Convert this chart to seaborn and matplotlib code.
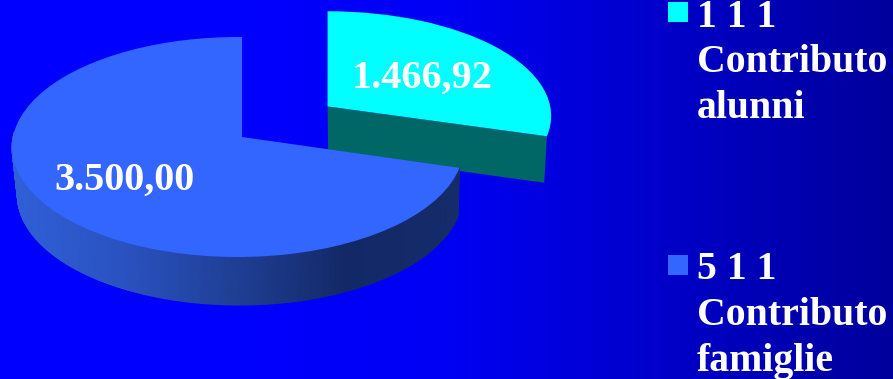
# 3D exploded pie on a blue background

import numpy as np
import matplotlib
matplotlib.use("Agg")
import matplotlib.pyplot as plt
from matplotlib.patches import Rectangle
from matplotlib.transforms import Transform
import seaborn as sns

# Data
values = [1466.92, 3500.00]
value_labels = ["1.466,92", "3.500,00"]
legend_lines = [["1 1 1", "Contributo", "alunni"],
                ["5 1 1", "Contributo", "famiglie"]]


class Project(Transform):
    # ground plane of the pie -> picture pixels, with some perspective
    input_dims = 2
    output_dims = 2
    is_separable = False

    def __init__(self, a, c, shear=0.0, v_ref=0.0):
        super().__init__()
        self.a = a
        self.c = c
        self.shear = shear
        self.v_ref = v_ref

    def transform_non_affine(self, values):
        values = np.asarray(values, dtype=float)
        u, v = values[:, 0], values[:, 1]
        w = 1 + 0.0909 * v + self.c * u
        x = 242 + self.a * u / w + self.shear * (v - self.v_ref)
        return np.column_stack([x, 137 - 109.09 * v / w])


def side_bottom(pts, depth):
    # lower rim of the pie, slightly narrower than the top one
    return np.column_stack([370 + 0.985 * (pts[:, 0] - 370), pts[:, 1] + depth])


sns.set_theme(style="white")
plt.rcParams['font.family'] = ['Liberation Serif', 'DejaVu Serif']

colors = sns.color_palette(["#00ffff", "#3366ff"])
bg_cmap = sns.blend_palette(["#0000ff", "#0000ff", "#0000f4", "#0000c8", "#00009c"], as_cmap=True)
side_cmap = sns.blend_palette(["#3060d8", "#2a52c0", "#1f3f95", "#132866", "#162c6a"], as_cmap=True)

fig = plt.figure(figsize=(8.93, 3.79), dpi=100)
ax = fig.add_axes([0, 0, 1, 1])

wedges, _ = ax.pie(values, explode=[0.48, 0], startangle=90, counterclock=False,
                   colors=colors, wedgeprops={'linewidth': 0})
cyan, blue = wedges
project_cyan = Project(228.5, 0.0, shear=7.0, v_ref=cyan.center[1])
project_blue = Project(224.8, 0.0183)
cyan.set_transform(project_cyan + ax.transData)
blue.set_transform(project_blue + ax.transData)
cyan.set_zorder(3)
blue.set_zorder(5)

# Background
ax.imshow(np.linspace(0, 1, 256)[None, :], extent=(0, 893, 379, 0), aspect='auto',
          cmap=bg_cmap, zorder=0)

# Flat cut side of the cyan slice
th = np.radians(cyan.theta1)
cut = project_cyan.transform_non_affine(np.array([
    cyan.center,
    [cyan.center[0] + np.cos(th), cyan.center[1] + np.sin(th)]]))
low = side_bottom(cut, 46.5)
ax.fill(np.r_[cut[:, 0], low[::-1, 0]], np.r_[cut[:, 1], low[::-1, 1]],
        color="#006666", linewidth=0, zorder=2)

# Rim of the blue slice, shaded from left to right
th = np.radians(np.linspace(max(blue.theta1, -183), blue.theta2, 200))
rim = project_blue.transform_non_affine(np.column_stack([np.cos(th), np.sin(th)]))
low = side_bottom(rim, 48)
X = np.vstack([rim[:, 0], low[:, 0]])
Y = np.vstack([rim[:, 1], low[:, 1]])
ax.pcolormesh(X, Y, X, shading='gouraud', cmap=side_cmap, vmin=12, vmax=460, zorder=4)

# Value labels
ax.text(352, 88, value_labels[0], color='white', fontsize=29, fontweight='bold',
        va='baseline', zorder=6)
ax.text(54, 190, value_labels[1], color='white', fontsize=29, fontweight='bold',
        va='baseline', zorder=6)

# Legend, baselines of each block 46 px apart
for lines, color, top, bases in zip(legend_lines, colors, [2, 255], [[27, 72, 118], [279, 325, 371]]):
    ax.add_patch(Rectangle((668, top), 20, 20, facecolor=color, linewidth=0, zorder=6))
    for line, base in zip(lines, bases):
        ax.text(697, base, line, color='white', fontsize=28.6, fontweight='bold',
                va='baseline', zorder=6)

ax.set_aspect('auto')
ax.set_xlim(0, 893)
ax.set_ylim(379, 0)
ax.axis('off')

plt.savefig("out.png", dpi=100)
